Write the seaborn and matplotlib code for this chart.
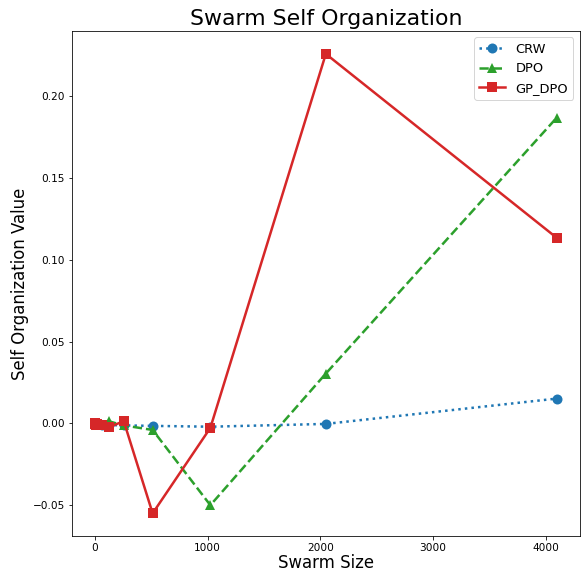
import numpy as np
import pandas as pd
import matplotlib
matplotlib.use("Agg")
import matplotlib.pyplot as plt
import seaborn as sns

# swarm sizes (powers of two)
swarm_sizes = [2, 4, 8, 16, 32, 64, 128, 256, 512, 1024, 2048, 4096]

# self organization values per method
crw = [0.0, 0.0, 0.0, -0.0005, -0.0005, -0.001, -0.001, -0.0012, -0.0015, -0.002, -0.0003, 0.0152]
dpo = [0.0, 0.0, -0.0005, -0.0005, -0.001, -0.0008, 0.0012, -0.0012, -0.004, -0.050, 0.0305, 0.187]
gp_dpo = [0.0, -0.0005, -0.001, -0.0005, -0.001, -0.0012, -0.0022, 0.0014, -0.055, -0.0027, 0.226, 0.1135]

plt.rcParams['font.family'] = ['DejaVu Sans']

fig, ax = plt.subplots(figsize=(581 / 72, 573 / 72), dpi=72)

series = [
    ("CRW", crw, "#1f77b4", ":", "o"),
    ("DPO", dpo, "#2ca02c", "--", "^"),
    ("GP_DPO", gp_dpo, "#d62728", "-", "s"),
]
for name, vals, col, ls, mk in series:
    sns.lineplot(x=swarm_sizes, y=vals, ax=ax, label=name, color=col,
                 linestyle=ls, marker=mk, markersize=10, markeredgewidth=0,
                 linewidth=2.5)

ax.set_title("Swarm Self Organization", fontsize=22)
ax.set_xlabel("Swarm Size", fontsize=16.5, labelpad=1)
ax.set_ylabel("Self Organization Value", fontsize=16.5)
ax.set_xticks([0, 1000, 2000, 3000, 4000])
ax.set_yticks([-0.05, 0.0, 0.05, 0.10, 0.15, 0.20])
ax.tick_params(labelsize=10.5)
ax.legend(loc="upper right", fontsize=13)

fig.subplots_adjust(left=0.124, right=0.998, bottom=0.064, top=0.946)
fig.savefig("out.png", dpi=72)
